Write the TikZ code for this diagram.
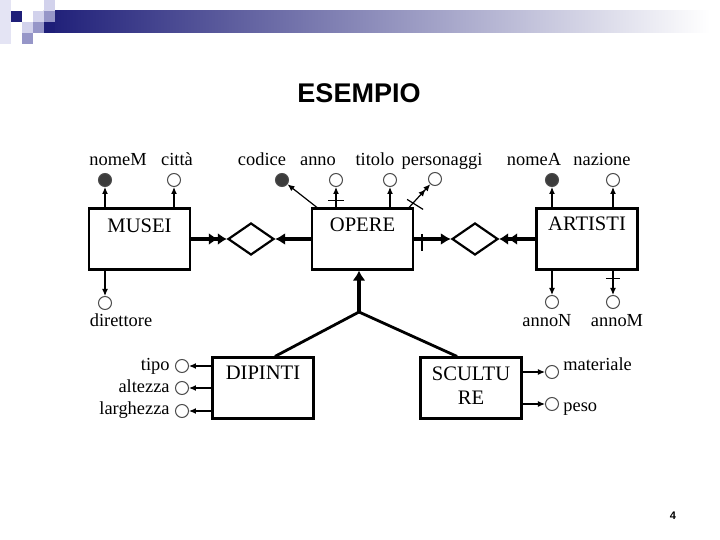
\documentclass[tikz,border=0pt]{standalone}
\usepackage{fontspec}
\setmainfont{Liberation Serif}
\newfontfamily\sansfont{Liberation Sans}
\usetikzlibrary{arrows.meta, positioning, shapes.geometric}

\definecolor{navy}{RGB}{30,30,120}
\definecolor{grigiobarra}{RGB}{165,165,188}
\definecolor{lilla}{RGB}{210,210,236}
\definecolor{lillascuro}{RGB}{150,150,200}
\definecolor{grigio}{RGB}{60,60,60}

\tikzset{
  entita/.style={draw, line width=1.1pt, minimum width=50.5pt, minimum height=30.5pt, inner sep=0pt},
  nomeent/.style={font=\fontsize{10.3}{12}\selectfont, inner sep=0pt, align=center},
  relaz/.style={diamond, draw, line width=1.1pt, minimum width=23pt, minimum height=16pt, inner sep=0pt, aspect=1.44},
  attr/.style={circle, draw=black!70, line width=0.5pt, minimum size=6.5pt, inner sep=0pt},
  chiave/.style={attr, fill=grigio},
  etich/.style={font=\fontsize{9.2}{11}\selectfont, inner sep=0pt},
  freccia/.style={line width=0.6pt, -{Latex[length=3.5pt,width=3pt]}},
  frecciadoppia/.style={line width=0.6pt, -{Latex[length=3.5pt,width=3pt]Latex[length=3.5pt,width=3pt]}},
  legame/.style={line width=1.8pt},
  punta/.style={-{Latex[length=5pt,width=6pt]}},
  doppia/.style={-{Latex[length=4.5pt,width=6pt]Latex[length=4.5pt,width=6pt]}},
  gerarchia/.style={line width=1.4pt},
  tacca/.style={line width=0.6pt},
}

\begin{document}
\begin{tikzpicture}[x=0.5pt, y=-0.5pt]
      \useasboundingbox (0,0) rectangle (720,540);
      \fill[white] (0,0) rectangle (720,540);

      \shade[left color=navy, middle color=grigiobarra, right color=white] (44,11) rectangle (710,33);
      \fill[lilla!60] (0,0) rectangle (11,44);
      \fill[navy] (11,11) rectangle (22,22);
      \fill[lilla] (22,22) rectangle (33,33);
      \fill[lillascuro] (22,33) rectangle (33,44);
      \fill[lilla] (33,11) rectangle (44,22);
      \fill[lillascuro] (33,22) rectangle (44,33);
      \fill[lilla] (44,0) rectangle (55,11);
      \fill[lillascuro] (44,11) rectangle (55,22);
      \fill[navy] (44,22) rectangle (55,33);

      \node[font=\sansfont\bfseries\fontsize{13.5}{16}\selectfont, anchor=base] (titolo) at (359,103) {ESEMPIO};
      \node[font=\sansfont\bfseries\fontsize{5.5}{6}\selectfont, anchor=base] (pagina) at (673,520) {4};

      \node[entita] (musei) at (139.5,239) {};
      \node[entita] (opere) at (362.5,239) {};
      \node[entita] (artisti) at (587,239) {};
      \node[entita] (dipinti) at (263,388) {};
      \node[entita] (sculture) at (471,388) {};
      \node[nomeent, below=5.5pt of musei.north] (musei-t) {MUSEI};
      \node[nomeent, below=5pt of opere.north] (opere-t) {OPERE};
      \node[nomeent, below=4.5pt of artisti.north] (artisti-t) {ARTISTI};
      \node[nomeent, below=4.5pt of dipinti.north] (dipinti-t) {DIPINTI};
      \node[nomeent, below=5pt of sculture.north] (sculture-t) {SCULTU\\RE};

      \node[relaz] (rel1) at (251,239) {};
      \node[relaz] (rel2) at (475,239) {};

      \node[chiave] (nomeM) at (105,180) {};
      \node[attr] (citta) at (174,180) {};
      \node[chiave] (codice) at (282,180) {};
      \node[attr] (anno) at (336,180) {};
      \node[attr] (titoloA) at (390,180) {};
      \node[attr] (personaggi) at (435,179) {};
      \node[chiave] (nomeA) at (552,180) {};
      \node[attr] (nazione) at (613,180) {};
      \node[attr] (direttore) at (105,303) {};
      \node[attr] (annoN) at (552,302) {};
      \node[attr] (annoM) at (613,302) {};
      \node[attr] (tipo) at (182,366) {};
      \node[attr] (altezza) at (182,388) {};
      \node[attr] (larghezza) at (182,411) {};
      \node[attr] (materiale) at (552,372) {};
      \node[attr] (peso) at (552,404) {};

      \node[etich, anchor=base] (nomeM-l) at (118,166) {nomeM};
      \node[etich, anchor=base] (citta-l) at (177,166) {città};
      \node[etich, anchor=base] (codice-l) at (262,166) {codice};
      \node[etich, anchor=base] (anno-l) at (318,166) {anno};
      \node[etich, anchor=base] (titoloA-l) at (375,166) {titolo};
      \node[etich, anchor=base] (personaggi-l) at (442,166) {personaggi};
      \node[etich, anchor=base] (nomeA-l) at (534,166) {nomeA};
      \node[etich, anchor=base] (nazione-l) at (602,166) {nazione};
      \node[etich, anchor=base] (direttore-l) at (121,327) {direttore};
      \node[etich, anchor=base] (annoN-l) at (547,327) {annoN};
      \node[etich, anchor=base] (annoM-l) at (617,327) {annoM};
      \node[etich, anchor=base east] (tipo-l) at (170,371) {tipo};
      \node[etich, anchor=base east] (altezza-l) at (170,393) {altezza};
      \node[etich, anchor=base east] (larghezza-l) at (170,415) {larghezza};
      \node[etich, anchor=base west] (materiale-l) at (563,371) {materiale};
      \node[etich, anchor=base west] (peso-l) at (563,412) {peso};

      \draw[freccia] (musei.north -| nomeM) -- (nomeM);
      \draw[freccia] (musei.north -| citta) -- (citta);
      \draw[freccia] (musei.south -| direttore) -- (direttore);
      \draw[freccia] ([xshift=3pt]opere.north west) -- (codice);
      \draw[freccia] (opere.north -| anno) -- (anno);
      \draw[freccia] (opere.north -| titoloA) -- (titoloA);
      \draw[frecciadoppia] ([xshift=-2.5pt]opere.north east) -- (personaggi);
      \draw[freccia] (artisti.north -| nomeA) -- (nomeA);
      \draw[freccia] (artisti.north -| nazione) -- (nazione);
      \draw[freccia] (artisti.south -| annoN) -- (annoN);
      \draw[freccia] (artisti.south -| annoM) -- (annoM);
      \draw[freccia] (dipinti.west |- tipo) -- (tipo);
      \draw[freccia] (dipinti.west |- altezza) -- (altezza);
      \draw[freccia] (dipinti.west |- larghezza) -- (larghezza);
      \draw[freccia] (sculture.east |- materiale) -- (materiale);
      \draw[freccia] (sculture.east |- peso) -- (peso);

      \draw[tacca] ([shift={(-4pt,3.5pt)}]opere.north -| anno) -- ++(8pt,0pt);
      \draw[tacca] ([shift={(-3.5pt,4pt)}]opere.north east) -- ++(8pt,-5pt);
      \draw[tacca] ([shift={(-3.5pt,-4pt)}]artisti.south -| annoM) -- ++(7pt,0pt);
      \draw[tacca] ([shift={(4pt,2.5pt)}]opere.east) -- ++(0pt,-8.5pt);

      \draw[legame, doppia] (musei) -- (rel1);
      \draw[legame, punta] (opere) -- (rel1);
      \draw[legame, punta] (opere) -- (rel2);
      \draw[legame, doppia] (artisti) -- (rel2);

      \coordinate (isa) at (359,312);
      \draw[gerarchia] (isa) -- ([xshift=6pt]dipinti.north);
      \draw[gerarchia] (isa) -- ([xshift=-7pt]sculture.north);
      \draw[gerarchia, line width=1.6pt, -{Latex[length=5pt,width=6.5pt]}] (isa) -- (isa |- opere.south);
    \end{tikzpicture}
\end{document}
